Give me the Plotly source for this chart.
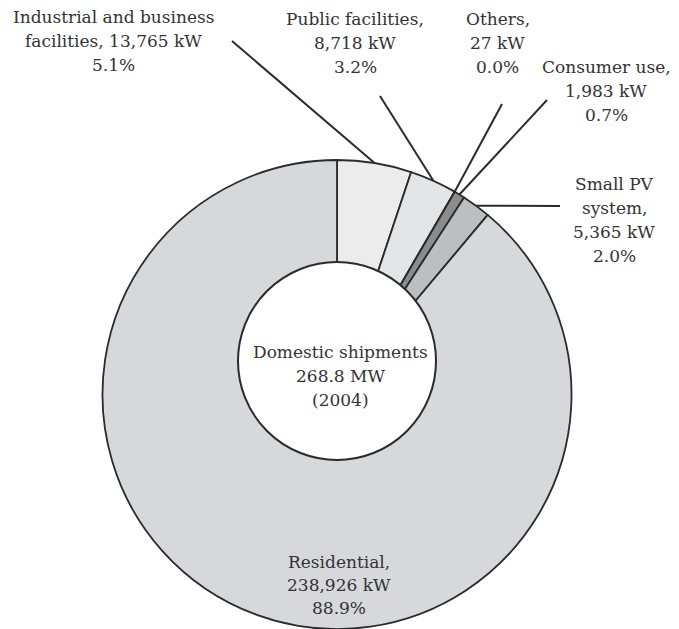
import math
import plotly.graph_objects as go

W, H = 679, 629

# Domestic PV shipments by application (kW)
categories = ["Industrial and business facilities", "Public facilities", "Others",
              "Consumer use", "Small PV system", "Residential"]
capacity_kw = [13765, 8718, 27, 1983, 5365, 238926]
share_pct = [5.1, 3.2, 0.0, 0.7, 2.0, 88.9]
name_lines = [
    ["Industrial and business", "facilities,"],
    ["Public facilities,"],
    ["Others,"],
    ["Consumer use,"],
    ["Small PV", "system,"],
    ["Residential,"],
]
colors = ["#ececec", "#e3e5e7", "#9a9a9a", "#8c8c8c", "#bdbec0", "#d6d8db"]
year = 2004

FONT = "DejaVu Serif"
TXT = "#333333"
LINE = "#2b2b2b"

# pie geometry in pixels
CX, CY, R = 337.0, 394.5, 234.5
HOLE_CX, HOLE_CY, HOLE_R = 337.0, 361.0, 99.0


def px(x):
    return x / W


def py(y):
    return 1 - y / H


def label_text(i):
    kw = f"{capacity_kw[i]:,} kW"
    pct = f"{share_pct[i]:.1f}%"
    names = list(name_lines[i])
    if i == 0:
        names[-1] = names[-1] + " " + kw
        return names + [pct]
    return names + [kw, pct]


fig = go.Figure()
fig.add_trace(go.Pie(
    labels=categories,
    values=capacity_kw,
    sort=False,
    direction="clockwise",
    rotation=0,
    textinfo="none",
    marker=dict(colors=colors, line=dict(color=LINE, width=1.8)),
    domain=dict(x=[px(CX - R), px(CX + R)], y=[py(CY + R), py(CY - R)]),
    showlegend=False,
))

annotations = []
shapes = []


def add_block(lines, cx, y0, step=24, size=17):
    for k, t in enumerate(lines):
        annotations.append(dict(
            x=px(cx), y=py(y0 + k * step), xref="paper", yref="paper",
            text=t, showarrow=False, xanchor="center", yanchor="middle",
            font=dict(family=FONT, size=size, color=TXT),
        ))


# label block centres (first line) and leader-line start points
label_pos = [(114, 17), (355, 19), (498, 19), (606, 67), (614, 184), (339, 562)]
leader_start = [(232, 41), (380, 96), (502, 104), (547, 100), (560, 206), None]

total = sum(capacity_kw)
cum = 0.0
for i, v in enumerate(capacity_kw):
    mid = 2 * math.pi * (cum + v / 2) / total
    cum += v
    cx, y0 = label_pos[i]
    add_block(label_text(i), cx, y0, step=23 if i == 5 else 24)
    if leader_start[i] is not None:
        ax = CX + R * math.sin(mid)
        ay = CY - R * math.cos(mid)
        sx, sy = leader_start[i]
        shapes.append(dict(type="line", xref="paper", yref="paper",
                           x0=px(sx), y0=py(sy), x1=px(ax), y1=py(ay),
                           line=dict(color=LINE, width=2), layer="above"))

# white centre disc
shapes.append(dict(type="circle", xref="paper", yref="paper",
                   x0=px(HOLE_CX - HOLE_R), x1=px(HOLE_CX + HOLE_R),
                   y0=py(HOLE_CY + HOLE_R), y1=py(HOLE_CY - HOLE_R),
                   fillcolor="white", line=dict(color=LINE, width=2), layer="above"))

add_block(["Domestic shipments", f"{total / 1000:.1f} MW", f"({year})"], 340, 352)

fig.update_layout(
    width=W, height=H,
    margin=dict(l=0, r=0, t=0, b=0),
    paper_bgcolor="white", plot_bgcolor="white",
    shapes=shapes, annotations=annotations,
)

fig.write_html("out.html")
